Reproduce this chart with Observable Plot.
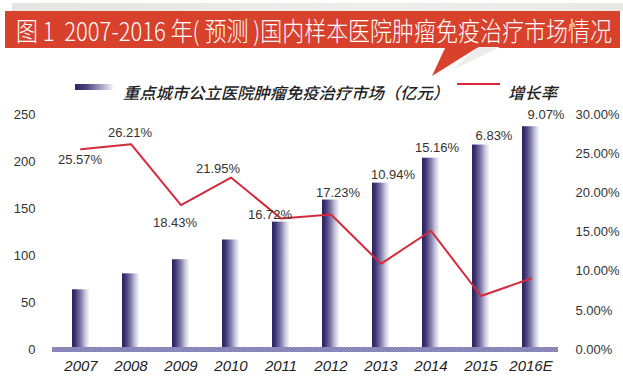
<!DOCTYPE html>
<html>
<head>
<meta charset="utf-8">
<script src="https://cdn.jsdelivr.net/npm/d3@7"></script>
<script src="https://cdn.jsdelivr.net/npm/@observablehq/plot@0.6"></script>
<style>
  html, body { margin: 0; padding: 0; background: #ffffff; }
  #wrap { position: relative; width: 623px; height: 391px; overflow: hidden; background: #ffffff; }
  #wrap svg.plot { position: absolute; left: 0; top: 0; }
  .abs { position: absolute; white-space: pre; }
  #topstrip { left: 12px; top: 3px; width: 611px; height: 8px; background: linear-gradient(to right, #e4e5e0, #eeeeea 60%, #e8e8e4); }
  #banner { left: 5px; top: 11px; width: 615px; height: 37px; background: #d8412c; }
  #title { left: 16px; top: 30px; transform-origin: 0 50%; color: #ffffff; font-family: "Noto Sans CJK SC", sans-serif; font-weight: 300; font-size: 26px; line-height: 1; }
  .legtext { font-family: "Noto Sans CJK SC", sans-serif; font-size: 16px; font-style: italic; font-weight: 500; color: #222; line-height: 1; transform-origin: 0 50%; }
</style>
</head>
<body>
<div id="wrap">
  <div id="topstrip" class="abs"></div>
  <div id="banner" class="abs"></div>
  <svg class="abs" style="left:0;top:0" width="623" height="90">
    <polygon points="478,47 500,47 452,70" fill="#ececea"/>
    <polygon points="446,46 480,46 432,76" fill="#d8412c"/>
  </svg>
  <div id="title" class="abs"></div>
  <div id="legSwatch" class="abs" style="left:75px;top:84px;width:38px;height:6px;background:linear-gradient(to right,#2e2462,#4a4380 30%,#a9a6c6 70%,#f3f3f7);"></div>
  <div id="legBar" class="abs legtext"></div>
  <div id="legLine" class="abs" style="left:457px;top:83px;width:43px;height:2px;background:#d42a3c;"></div>
  <div id="legRate" class="abs legtext"></div>
</div>
<script>
// ---- data ----
const titleText = "图 1  2007-2016 年( 预测 )国内样本医院肿瘤免疫治疗市场情况";
const seriesBarName = "重点城市公立医院肿瘤免疫治疗市场（亿元）";
const seriesLineName = "增长率";
const years = ["2007", "2008", "2009", "2010", "2011", "2012", "2013", "2014", "2015", "2016E"];
const market = [63.5, 80.5, 95.5, 116.5, 135.5, 159, 177, 203.5, 217.5, 237];
const growth = [25.57, 26.21, 18.43, 21.95, 16.72, 17.23, 10.94, 15.16, 6.83, 9.07];
const leftTicks = [0, 50, 100, 150, 200, 250];
const rightTicks = [0, 5, 10, 15, 20, 25, 30];

// ---- layout helpers ----
const k = 250 / 30; // right axis (%) -> left axis units
const data = years.map((year, i) => ({year, market: market[i], growth: growth[i]}));

function placeText(id, text, left, centerY, targetWidth) {
  const el = document.getElementById(id);
  el.textContent = text;
  el.style.left = left + "px";
  const r = el.getBoundingClientRect();
  el.style.top = (centerY - r.height / 2) + "px";
  if (targetWidth) el.style.transform = `scaleX(${targetWidth / r.width})`;
}
placeText("title", titleText, 16, 30, 596);
placeText("legBar", seriesBarName, 123, 92, 326);
placeText("legRate", seriesLineName, 508, 92, 49);

// label nudges (layout only): first four hang off the line, the rest sit above the bars
const nudges = [[-1, 11], [-1, -11], [-6, 18], [-13, -9], [-11, -7], [7, -7], [12, -8], [6, -10], [13, -9], [15, -12]];
const labelMarks = data.map((d, i) => Plot.text([d], {
  x: "year",
  y: i < 4 ? (r) => r.growth * k : "market",
  text: (r) => r.growth.toFixed(2) + "%",
  dx: nudges[i][0], dy: nudges[i][1],
  fontSize: 13, fill: "#333"
}));

const chart = Plot.plot({
  width: 623, height: 391,
  marginTop: 114, marginBottom: 42, marginLeft: 52, marginRight: 65,
  style: {background: "transparent", fontFamily: "'Liberation Sans', Arial, sans-serif", color: "#333"},
  x: {domain: years, paddingInner: 0.66, paddingOuter: 0.33, axis: null, label: null},
  y: {domain: [0, 250], axis: null},
  marks: [
    Plot.axisY(leftTicks, {anchor: "left", tickSize: 0, tickPadding: 17, fontSize: 13, label: null}),
    Plot.axisY(rightTicks.map(d => d * k), {anchor: "right", tickSize: 0, tickPadding: 17, fontSize: 13, label: null,
      tickFormat: d => (d / k).toFixed(2) + "%"}),
    Plot.barY(data, {x: "year", y: "market", fill: "#3a2f70"}),
    Plot.ruleY([0], {stroke: "#8d8bbb", strokeWidth: 5}),
    Plot.axisX(years, {anchor: "bottom", tickSize: 0, tickPadding: 11, fontSize: 15, fontStyle: "italic", label: null, fill: "#222"}),
    Plot.line(data, {x: "year", y: d => d.growth * k, stroke: "#d42a3c", strokeWidth: 2}),
    ...labelMarks
  ]
});
chart.classList.add("plot");

// gradient / pattern definitions
const svg = d3.select(chart);
const defs = svg.insert("defs", ":first-child");
const g = defs.append("linearGradient").attr("id", "barGrad").attr("x1", 0).attr("x2", 1).attr("y1", 0).attr("y2", 0);
[[0, "#2c225f"], [0.18, "#3b3171"], [0.5, "#7d77a6"], [0.8, "#cfcde0"], [1, "#f5f5f8"]]
  .forEach(([o, c]) => g.append("stop").attr("offset", o).attr("stop-color", c));
const p = defs.append("pattern").attr("id", "baseChecker").attr("patternUnits", "userSpaceOnUse")
  .attr("width", 3).attr("height", 3);
p.append("rect").attr("width", 3).attr("height", 3).attr("fill", "#b5b3d6");
p.append("rect").attr("width", 1.5).attr("height", 1.5).attr("fill", "#5f5a9c");
p.append("rect").attr("x", 1.5).attr("y", 1.5).attr("width", 1.5).attr("height", 1.5).attr("fill", "#5f5a9c");
svg.selectAll('g[aria-label="bar"] rect').attr("fill", "url(#barGrad)");
svg.selectAll('g[aria-label="rule"] line').attr("stroke", "url(#baseChecker)");

document.getElementById("wrap").insertBefore(chart, document.getElementById("topstrip"));
</script>
</body>
</html>
